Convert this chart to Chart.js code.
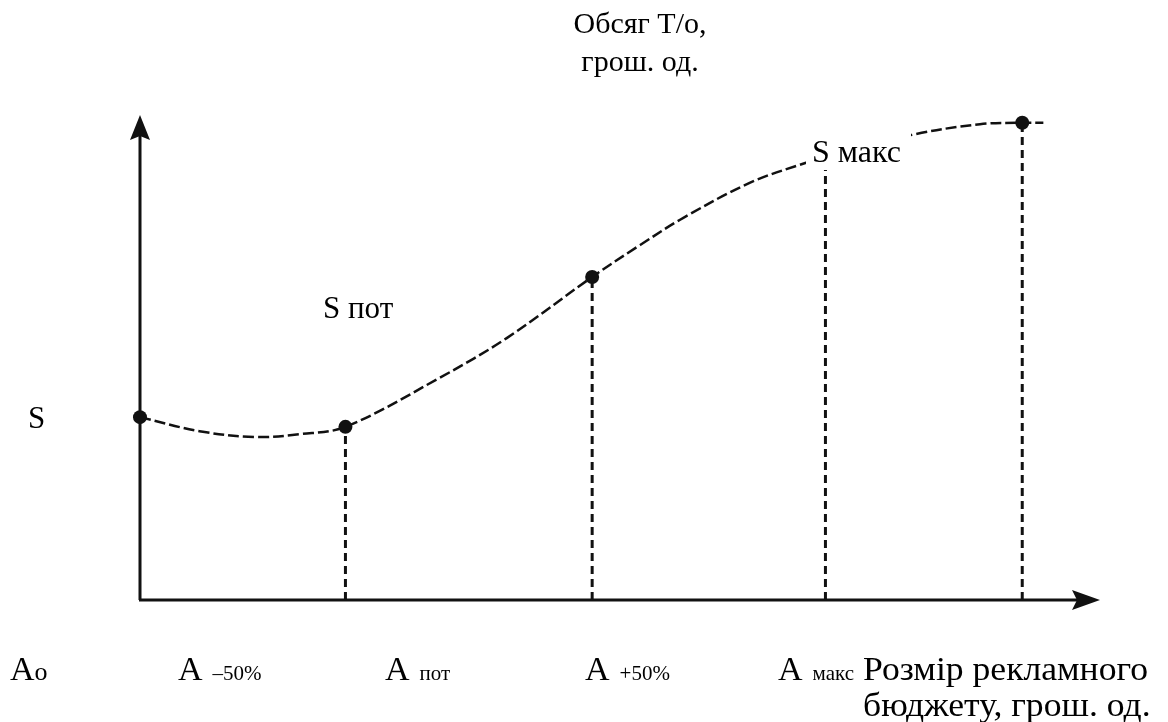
<!DOCTYPE html>
<html>
<head>
<meta charset="utf-8">
<script src="https://cdn.jsdelivr.net/npm/chart.js@4.4.1/dist/chart.umd.min.js"></script>
<style>
  html, body { margin: 0; padding: 0; background: #fff; }
  #wrap { width: 1168px; height: 722px; }
</style>
</head>
<body>
<div id="wrap"><canvas id="grafik-budget"></canvas></div>
<script>
// крива обсягу товарообороту (умовні одиниці, 0..100 по обох осях)
const curveX = [0, 6.2, 12.0, 16.7, 21.4, 31.2, 38.2, 47.1, 52.1, 56.6, 63.5, 69.3, 71.4, 80.4, 87.5, 91.9, 94.1];
const curveY = [37.7, 34.8, 33.6, 34.2, 35.7, 45.8, 54.0, 66.6, 73.2, 78.8, 86.0, 90.1, 91.1, 95.9, 98.1, 98.4, 98.4];
// точки на кривій
const dotX = [0, 21.4, 47.1, 91.9];
// вертикальні пунктири
const dropX = [21.4, 47.1, 71.4, 91.9];
const dropTop = [35.7, 66.6, 88.7, 98.4];
// підписи
const titleLines = ['Обсяг Т/о,', 'грош. од.'];
const bottomLabels = [['A', 'о'], ['A', '–50%'], ['A', 'пот'], ['A', '+50%'], ['A', 'макс']];
const axisTitle = ['Розмір рекламного', 'бюджету, грош. од.'];

const serif = '"Liberation Serif", "Times New Roman", serif';

const datasets = [{
  data: curveX.map(function (x, i) { return { x: x, y: curveY[i] }; }),
  showLine: true,
  clip: 12,
  borderColor: '#111',
  borderWidth: 2.5,
  borderDash: [11, 4],
  tension: 0.35,
  pointRadius: function (c) { return dotX.includes(curveX[c.dataIndex]) ? 7 : 0; },
  pointBackgroundColor: '#111',
  pointBorderWidth: 0
}];

dropX.forEach(function (x, i) {
  datasets.push({
    data: [{ x: x, y: 0 }, { x: x, y: dropTop[i] }],
    showLine: true,
    clip: 12,
    borderColor: '#111',
    borderWidth: 3,
    borderDash: [8, 5],
    pointRadius: 0
  });
});

const axesPlugin = {
  id: 'axes',
  beforeDatasetsDraw: function (chart) {
    const c = chart.ctx;
    const sx = chart.scales.x, sy = chart.scales.y;
    const x0 = sx.getPixelForValue(0), y0 = sy.getPixelForValue(0);
    const yTip = sy.getPixelForValue(100), xTip = sx.getPixelForValue(100);
    c.save();
    c.strokeStyle = '#111';
    c.fillStyle = '#111';
    c.lineWidth = 3;
    c.beginPath();
    c.moveTo(x0, y0);
    c.lineTo(x0, yTip + 20);
    c.moveTo(x0 - 1, y0);
    c.lineTo(xTip - 20, y0);
    c.stroke();
    // стрілки
    c.beginPath();
    c.moveTo(x0, yTip);
    c.lineTo(x0 + 10, yTip + 25);
    c.lineTo(x0, yTip + 21);
    c.lineTo(x0 - 10, yTip + 25);
    c.closePath();
    c.fill();
    c.beginPath();
    c.moveTo(xTip, y0);
    c.lineTo(xTip - 28, y0 - 10);
    c.lineTo(xTip - 23, y0);
    c.lineTo(xTip - 28, y0 + 10);
    c.closePath();
    c.fill();
    c.restore();
  },
  afterDatasetsDraw: function (chart) {
    const c = chart.ctx;
    c.save();
    c.textBaseline = 'alphabetic';
    c.fillStyle = '#000';
    c.font = '30px ' + serif;
    c.textAlign = 'center';
    c.fillText(titleLines[0], 640, 33);
    c.fillText(titleLines[1], 640, 71);

    c.textAlign = 'left';
    c.font = '31px ' + serif;
    c.fillText('S', 28, 428);
    c.fillText('S пот', 323, 318);

    // S макс з білою підкладкою
    c.fillStyle = '#fff';
    c.fillRect(806, 134, 105, 36);
    c.fillStyle = '#000';
    c.font = '32px ' + serif;
    c.fillText('S макс', 812, 162);

    const lx = [10, 178, 385, 585, 778];
    bottomLabels.forEach(function (l, i) {
      c.font = '34px ' + serif;
      c.fillText(l[0], lx[i], 680);
      const w = c.measureText(l[0]).width;
      const isO = l[1] === 'о';
      c.font = (isO ? '26px ' : '21px ') + serif;
      c.fillText(l[1], lx[i] + w + (isO ? 0 : 10), 680);
    });

    // підпис осі трохи розтягнутий по горизонталі, як у скані
    c.font = '33px ' + serif;
    c.save();
    c.translate(863, 0);
    c.scale(1.08, 1);
    c.fillText(axisTitle[0], 0, 680);
    c.fillText(axisTitle[1], 0, 716);
    c.restore();
    c.restore();
  }
};

new Chart(document.getElementById('grafik-budget'), {
  type: 'scatter',
  data: { datasets: datasets },
  options: {
    responsive: true,
    maintainAspectRatio: false,
    animation: false,
    layout: { padding: { left: 140, right: 68, top: 115, bottom: 122 } },
    plugins: { legend: { display: false }, tooltip: { enabled: false } },
    scales: {
      x: { type: 'linear', min: 0, max: 100, display: false },
      y: { type: 'linear', min: 0, max: 100, display: false }
    }
  },
  plugins: [axesPlugin]
});
</script>
</body>
</html>
